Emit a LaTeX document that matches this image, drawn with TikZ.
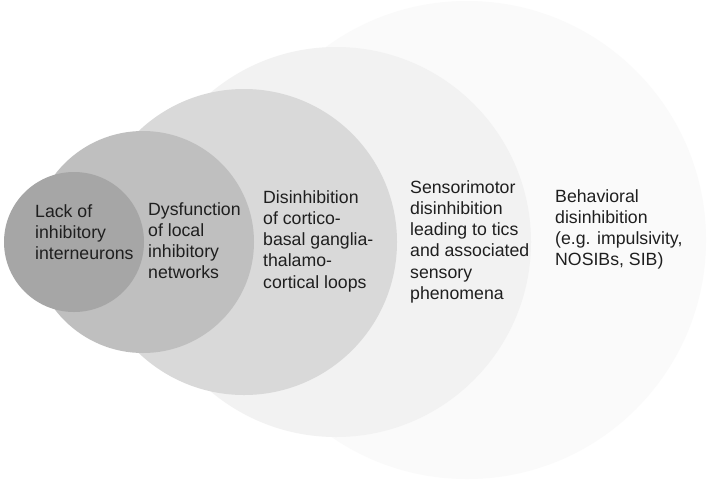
\documentclass[tikz,border=0pt]{standalone}
\usepackage{fontspec}
\setmainfont{Liberation Sans}
\begin{document}
\begin{tikzpicture}[x=1pt,y=-1pt,
  ring/.style={circle,inner sep=0pt,draw=none},
  lbl/.style={anchor=base west,inner sep=0pt,text=black!88}]
\useasboundingbox[fill=white] (0,0) rectangle (708,480);
\newcommand{\blk}[1]{\parbox[t]{160pt}{\fontsize{17.7}{21.3}\selectfont\raggedright #1}}
\node[ring,fill={rgb,255:red,250;green,250;blue,250},minimum size=478pt] (c5) at (467,240) {};
\node[ring,fill={rgb,255:red,242;green,242;blue,242},minimum size=390pt] (c4) at (336,242) {};
\node[ring,fill={rgb,255:red,217;green,217;blue,217},minimum size=306pt] (c3) at (244,242) {};
\node[ring,fill={rgb,255:red,191;green,191;blue,191},minimum size=222pt] (c2) at (143,242) {};
\node[ring,fill={rgb,255:red,166;green,166;blue,166},minimum size=140pt] (c1) at (74,242) {};
\node[lbl] (t1) at (35,217) {\blk{Lack of\\inhibitory\\interneurons}};
\node[lbl] (t2) at (148,215) {\blk{Dysfunction\\of local\\inhibitory\\networks}};
\node[lbl] (t3) at (263,203) {\blk{Disinhibition\\of cortico-\\basal ganglia-\\thalamo-\\cortical loops}};
\node[lbl] (t4) at (410,193) {\blk{Sensorimotor\\disinhibition\\leading to tics\\and associated\\sensory\\phenomena}};
\node[lbl] (t5) at (555,202) {\blk{Behavioral\\disinhibition\\(e.g. impulsivity,\\NOSIBs, SIB)}};
\end{tikzpicture}
\end{document}
